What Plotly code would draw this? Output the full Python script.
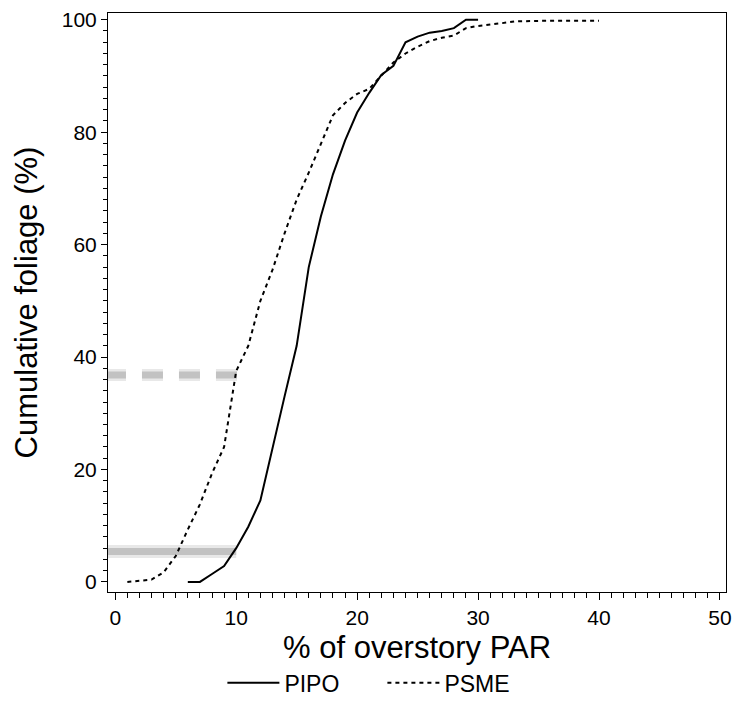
import plotly.graph_objects as go

# PIPO cumulative foliage curve (solid)
pipo_par = [6, 7, 8, 9, 10, 11, 12, 13, 14, 15, 16, 17, 18, 19, 20, 21, 22, 23, 24, 25, 26, 27, 28, 29, 30]
pipo_cum = [0, 0, 1.4, 2.8, 6.0, 9.8, 14.5, 24, 33, 42, 56, 65, 72.5, 78.5, 83.5, 87, 90.2, 91.8, 96, 97, 97.7, 98, 98.5, 100, 100]

# PSME cumulative foliage curve (dotted)
psme_par = [1, 2, 3, 4, 5, 6, 7, 8, 9, 10, 11, 12, 13, 14, 15, 16, 17, 18, 19, 20,
            21, 22, 23, 24, 25, 26, 27, 28, 29, 30, 31, 32, 33, 34, 35, 36, 37, 38, 39, 40]
psme_cum = [0, 0.2, 0.4, 1.7, 4.6, 9.3, 13.8, 19.3, 24, 37.5, 42, 50, 55.5, 62, 68, 72.8, 78, 83, 85.2, 86.8,
            87.7, 90, 92.4, 94, 95.2, 96.2, 96.8, 97.2, 98.5, 98.9, 99.1, 99.4, 99.7, 99.8, 99.8, 99.8, 99.8, 99.8, 99.8, 99.8]

# grey reference levels
ref_solid_x = [-0.8, 10]
ref_solid_y = [5.4, 5.4]
ref_dash_x = [-0.85, 10.2]
ref_dash_y = [36.8, 36.8]

x_ticks = [0, 10, 20, 30, 40, 50]
y_ticks = [0, 20, 40, 60, 80, 100]

x_title = "% of overstory PAR"
y_title = "Cumulative foliage (%)"

FONT = "Arial, Liberation Sans, sans-serif"

fig = go.Figure()

# soft grey solid level
fig.add_trace(go.Scatter(x=ref_solid_x, y=ref_solid_y, mode="lines",
                         line=dict(color="rgba(190,190,190,0.35)", width=13),
                         showlegend=False, hoverinfo="skip"))
fig.add_trace(go.Scatter(x=ref_solid_x, y=ref_solid_y, mode="lines",
                         line=dict(color="#c2c2c2", width=7),
                         showlegend=False, hoverinfo="skip"))
# soft grey dashed level
fig.add_trace(go.Scatter(x=ref_dash_x, y=ref_dash_y, mode="lines",
                         line=dict(color="rgba(190,190,190,0.35)", width=12, dash="21px,16px"),
                         showlegend=False, hoverinfo="skip"))
fig.add_trace(go.Scatter(x=ref_dash_x, y=ref_dash_y, mode="lines",
                         line=dict(color="#c2c2c2", width=7, dash="21px,16px"),
                         showlegend=False, hoverinfo="skip"))

fig.add_trace(go.Scatter(x=pipo_par, y=pipo_cum, mode="lines", name="PIPO",
                         line=dict(color="black", width=2)))
fig.add_trace(go.Scatter(x=psme_par, y=psme_cum, mode="lines", name="PSME",
                         line=dict(color="black", width=2, dash="4px,4px")))

fig.add_annotation(text=x_title, xref="paper", yref="paper", x=0.5, y=-0.095,
                   xanchor="center", yanchor="middle", showarrow=False,
                   font=dict(size=31, family=FONT, color="black"))

fig.update_layout(
    width=734, height=722,
    paper_bgcolor="white", plot_bgcolor="white",
    margin=dict(l=108, r=8, t=13, b=130),
    font=dict(family=FONT, color="black", size=21),
    showlegend=True,
    legend=dict(orientation="h", x=0.444, xanchor="center", y=-0.157, yanchor="middle",
                font=dict(size=23, family=FONT), itemwidth=52, entrywidth=93,
                bgcolor="rgba(0,0,0,0)"),
    xaxis=dict(range=[-0.6, 50.5], tickvals=x_ticks, ticks="outside", ticklen=7, tickwidth=1,
               tickcolor="black", showline=True, linecolor="black", linewidth=1, mirror=True,
               showgrid=False, zeroline=False, automargin=False, ticklabeloverflow="allow",
               minor=dict(dtick=1, ticks="outside", ticklen=5, tickcolor="black", showgrid=False),
               tickfont=dict(size=21)),
    yaxis=dict(range=[-1.8, 101.2], tickvals=y_ticks, ticks="outside", ticklen=6, tickwidth=1,
               tickcolor="black", showline=True, linecolor="black", linewidth=1, mirror=True,
               showgrid=False, zeroline=False, automargin=False, ticklabeloverflow="allow",
               minor=dict(dtick=2, ticks="outside", ticklen=4, tickcolor="black", showgrid=False),
               tickfont=dict(size=21),
               title=dict(text=y_title, font=dict(size=31), standoff=14)),
)

fig.write_html("out.html", config={"displayModeBar": False},
               post_script="document.body.style.margin='0px';")
